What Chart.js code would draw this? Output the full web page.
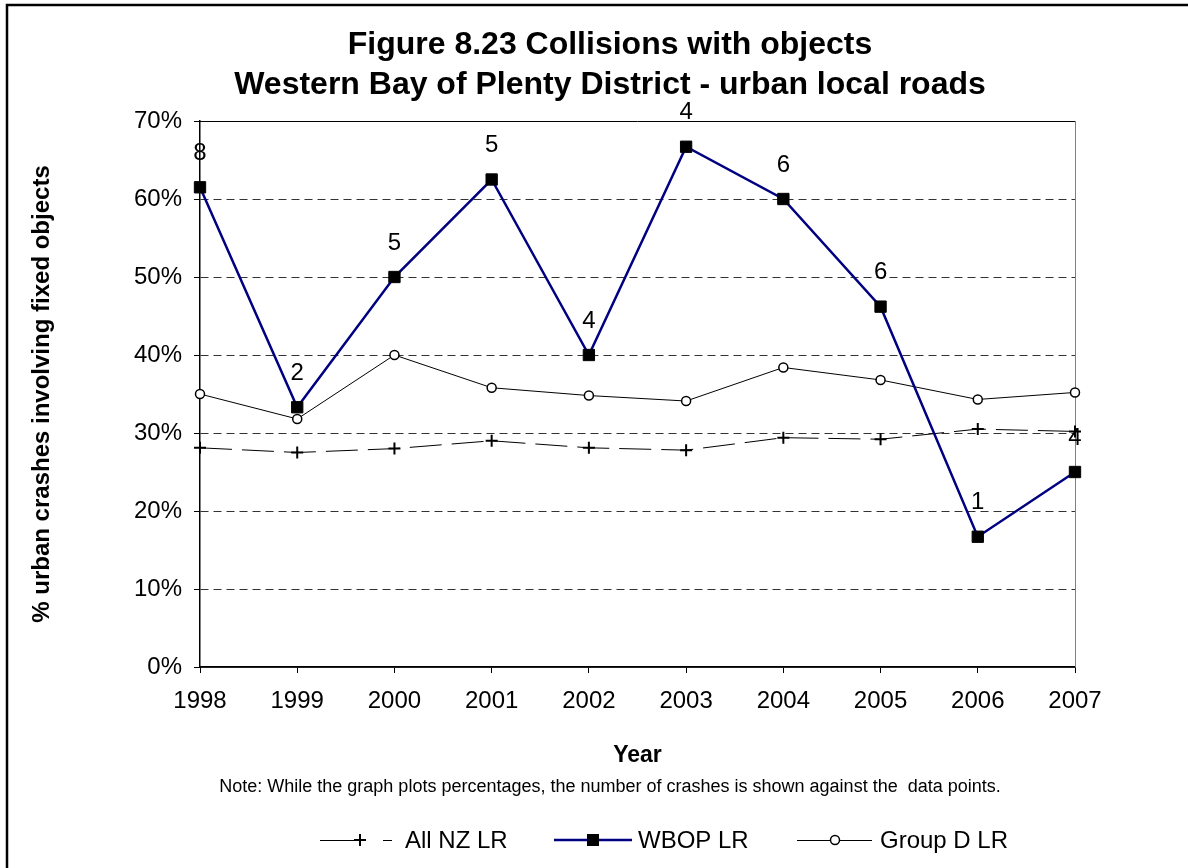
<!DOCTYPE html>
<html>
<head>
<meta charset="utf-8">
<script src="https://cdn.jsdelivr.net/npm/chart.js@4"></script>
<style>
  html, body { margin: 0; padding: 0; background: #fff; }
  #wrap { width: 1188px; height: 868px; position: relative; }
</style>
</head>
<body>
<div id="wrap"><canvas id="c" width="1188" height="868"></canvas></div>
<script>
const years = ['1998','1999','2000','2001','2002','2003','2004','2005','2006','2007'];
const allNZ = [28.1, 27.5, 28.0, 29.0, 28.1, 27.8, 29.4, 29.2, 30.5, 30.2];
const wbop = [61.5, 33.3, 50.0, 62.5, 40.0, 66.7, 60.0, 46.2, 16.7, 25.0];
const groupD = [35.0, 31.8, 40.0, 35.8, 34.8, 34.1, 38.4, 36.8, 34.3, 35.2];
const wbopCounts = [8, 2, 5, 5, 4, 4, 6, 6, 1, 4];
const yTicksMax = 70;
const titleLines = ['Figure 8.23 Collisions with objects', 'Western Bay of Plenty District - urban local roads'];
const noteText = 'Note: While the graph plots percentages, the number of crashes is shown against the  data points.';
const seriesNames = ['All NZ LR', 'WBOP LR', 'Group D LR'];

const FONT = '"Liberation Sans", Arial, sans-serif';

const decorPlugin = {
  id: 'decor',
  beforeDraw(chart) {
    const ctx = chart.ctx;
    ctx.save();
    ctx.fillStyle = '#fff';
    ctx.fillRect(0, 0, chart.width, chart.height);
    ctx.strokeStyle = '#000';
    ctx.lineWidth = 2.5;
    ctx.beginPath();
    ctx.moveTo(7, chart.height + 2);
    ctx.lineTo(7, 5);
    ctx.lineTo(chart.width + 2, 5);
    ctx.stroke();
    ctx.restore();
  },
  beforeDatasetsDraw(chart) {
    const ctx = chart.ctx;
    const a = chart.chartArea;
    ctx.save();
    ctx.lineWidth = 1;
    ctx.strokeStyle = '#000';
    ctx.beginPath();
    ctx.moveTo(a.left, a.top + 0.5);
    ctx.lineTo(a.right, a.top + 0.5);
    ctx.stroke();
    ctx.strokeStyle = '#808080';
    ctx.beginPath();
    ctx.moveTo(a.right + 0.5, a.top);
    ctx.lineTo(a.right + 0.5, a.bottom);
    ctx.stroke();
    ctx.lineWidth = 1.5;
    ctx.strokeStyle = '#000';
    ctx.beginPath();
    ctx.moveTo(a.left, a.bottom);
    ctx.lineTo(a.right, a.bottom);
    ctx.stroke();
    ctx.restore();
  },
  afterDatasetsDraw(chart) {
    const ctx = chart.ctx;
    ctx.save();
    const meta = chart.getDatasetMeta(1);
    ctx.fillStyle = '#000';
    ctx.font = '24px ' + FONT;
    ctx.textAlign = 'center';
    ctx.textBaseline = 'middle';
    meta.data.forEach((pt, i) => {
      ctx.fillText(String(wbopCounts[i]), pt.x, pt.y - 34);
    });
    ctx.font = 'bold 32px ' + FONT;
    ctx.fillText(titleLines[0], 610, 45);
    ctx.fillText(titleLines[1], 610, 85);
    ctx.font = '18px ' + FONT;
    ctx.fillText(noteText, 610, 787);
    const ly = 840;
    ctx.textAlign = 'left';
    ctx.font = '24px ' + FONT;
    ctx.strokeStyle = '#000';
    ctx.lineWidth = 1;
    ctx.beginPath();
    ctx.moveTo(320, ly + 0.5); ctx.lineTo(366, ly + 0.5);
    ctx.moveTo(383, ly + 0.5); ctx.lineTo(392, ly + 0.5);
    ctx.stroke();
    ctx.lineWidth = 2;
    ctx.beginPath();
    ctx.moveTo(360, ly - 6); ctx.lineTo(360, ly + 6);
    ctx.moveTo(354, ly); ctx.lineTo(366, ly);
    ctx.stroke();
    ctx.fillText(seriesNames[0], 405, ly + 1);
    ctx.strokeStyle = '#000080';
    ctx.lineWidth = 2.5;
    ctx.beginPath();
    ctx.moveTo(554, ly); ctx.lineTo(632, ly);
    ctx.stroke();
    ctx.fillStyle = '#000';
    ctx.fillRect(587, ly - 6, 12, 12);
    ctx.fillText(seriesNames[1], 638, ly + 1);
    ctx.strokeStyle = '#000';
    ctx.lineWidth = 1;
    ctx.beginPath();
    ctx.moveTo(797, ly + 0.5); ctx.lineTo(872, ly + 0.5);
    ctx.stroke();
    ctx.fillStyle = '#fff';
    ctx.lineWidth = 1.5;
    ctx.beginPath();
    ctx.arc(835, ly, 4.5, 0, Math.PI * 2);
    ctx.fill(); ctx.stroke();
    ctx.fillStyle = '#000';
    ctx.fillText(seriesNames[2], 880, ly + 1);
    ctx.restore();
  }
};

new Chart(document.getElementById('c'), {
  type: 'line',
  data: {
    labels: years,
    datasets: [
      {
        label: seriesNames[0],
        data: allNZ,
        borderColor: '#000',
        borderWidth: 1,
        borderDash: [32, 10],
        pointStyle: 'cross',
        pointRadius: 6,
        pointBorderWidth: 2,
        pointBorderColor: '#000',
        pointBackgroundColor: '#000',
        tension: 0,
        order: 2,
        clip: false
      },
      {
        label: seriesNames[1],
        data: wbop,
        borderColor: '#000080',
        borderWidth: 2.5,
        pointStyle: 'rect',
        pointRadius: 8,
        pointBorderWidth: 1,
        pointBorderColor: '#000',
        pointBackgroundColor: '#000',
        tension: 0,
        order: 0,
        clip: false
      },
      {
        label: seriesNames[2],
        data: groupD,
        borderColor: '#000',
        borderWidth: 1,
        pointStyle: 'circle',
        pointRadius: 4.5,
        pointBorderWidth: 1.5,
        pointBorderColor: '#000',
        pointBackgroundColor: '#fff',
        tension: 0,
        order: 1,
        clip: false
      }
    ]
  },
  options: {
    responsive: false,
    animation: false,
    devicePixelRatio: 1,
    layout: { padding: { left: 0, top: 121, right: 113, bottom: 0 } },
    plugins: {
      legend: { display: false },
      title: { display: false },
      tooltip: { enabled: false }
    },
    scales: {
      x: {
        offset: false,
        afterFit(scale) { scale.height = 201; },
        grid: {
          drawOnChartArea: false,
          drawTicks: true,
          tickLength: 6,
          tickColor: '#000',
          tickWidth: 1
        },
        border: { display: true, color: '#000', width: 1.5 },
        ticks: {
          color: '#000',
          font: { family: FONT, size: 24 },
          padding: 14,
          maxRotation: 0,
          autoSkip: false
        },
        title: {
          display: true,
          text: 'Year',
          color: '#000',
          font: { family: FONT, size: 23, weight: 'bold' },
          padding: { top: 0, bottom: 99 }
        }
      },
      y: {
        min: 0,
        max: yTicksMax,
        afterFit(scale) { scale.width = 200; },
        grid: {
          color: c => (c.tick && (c.tick.value === 0 || c.tick.value === yTicksMax)) ? 'rgba(0,0,0,0)' : '#333',
          lineWidth: 1,
          drawTicks: true,
          tickLength: 6,
          tickColor: '#000',
          tickBorderDash: [],
          tickWidth: 1
        },
        border: { display: true, color: '#000', width: 1.5, dash: [8, 5] },
        ticks: {
          stepSize: 10,
          color: '#000',
          font: { family: FONT, size: 24 },
          padding: 12,
          callback: v => v + '%'
        },
        title: {
          display: true,
          text: '% urban crashes involving fixed objects',
          color: '#000',
          font: { family: FONT, size: 24, weight: 'bold' },
          padding: { top: 28, bottom: 0 }
        }
      }
    }
  },
  plugins: [decorPlugin]
});
</script>
</body>
</html>
